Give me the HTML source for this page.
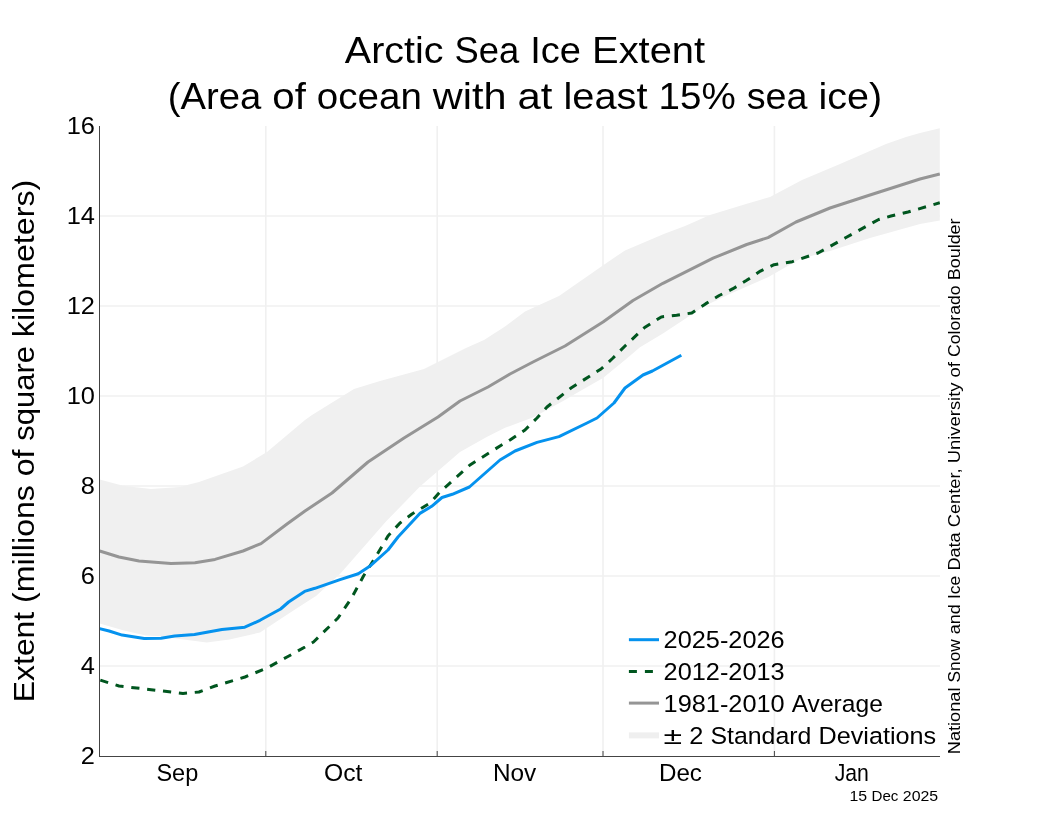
<!DOCTYPE html>
<html><head><meta charset="utf-8"><title>Arctic Sea Ice Extent</title>
<style>
html,body{margin:0;padding:0;background:#fff;width:1050px;height:840px;overflow:hidden}
svg{display:block;will-change:transform}
text{font-family:"Liberation Sans", sans-serif;fill:#000}
</style></head><body>
<svg width="1050" height="840" viewBox="0 0 1050 840">
<rect width="1050" height="840" fill="#ffffff"/>
<defs><clipPath id="ax"><rect x="99.5" y="124" width="840.5" height="632.5"/></clipPath></defs>
<line x1="99.7" y1="216.0" x2="940" y2="216.0" stroke="#f0f0f0" stroke-width="1.6"/>
<line x1="99.7" y1="306.0" x2="940" y2="306.0" stroke="#f0f0f0" stroke-width="1.6"/>
<line x1="99.7" y1="396.0" x2="940" y2="396.0" stroke="#f0f0f0" stroke-width="1.6"/>
<line x1="99.7" y1="486.0" x2="940" y2="486.0" stroke="#f0f0f0" stroke-width="1.6"/>
<line x1="99.7" y1="576.0" x2="940" y2="576.0" stroke="#f0f0f0" stroke-width="1.6"/>
<line x1="99.7" y1="666.0" x2="940" y2="666.0" stroke="#f0f0f0" stroke-width="1.6"/>
<line x1="265.8" y1="126" x2="265.8" y2="756" stroke="#f0f0f0" stroke-width="1.6"/>
<line x1="437.2" y1="126" x2="437.2" y2="756" stroke="#f0f0f0" stroke-width="1.6"/>
<line x1="603.0" y1="126" x2="603.0" y2="756" stroke="#f0f0f0" stroke-width="1.6"/>
<line x1="774.4" y1="126" x2="774.4" y2="756" stroke="#f0f0f0" stroke-width="1.6"/>
<g clip-path="url(#ax)">
<polygon points="99.7,479.6 123.0,485.7 151.0,489.1 180.0,487.0 191.0,484.0 199.0,482.0 243.0,466.5 267.0,452.0 305.0,420.0 312.0,415.0 354.0,389.0 380.0,381.0 424.0,369.0 466.0,348.0 484.0,340.0 505.0,326.5 525.0,311.5 559.0,296.0 605.0,264.0 625.0,250.4 665.0,233.6 685.0,226.0 710.0,215.0 746.0,204.0 770.0,197.0 802.0,180.0 840.0,164.0 886.0,144.0 906.0,137.0 920.0,133.0 939.8,128.3 939.8,220.6 920.0,224.0 870.0,238.0 830.0,251.0 800.0,259.0 768.0,277.2 731.4,293.2 704.0,306.2 685.7,318.4 662.9,333.6 640.0,347.3 625.0,360.0 603.0,378.0 575.0,394.0 564.9,400.0 534.0,417.1 520.0,422.3 505.0,427.8 486.7,437.1 460.0,452.0 420.0,486.5 404.0,503.0 386.0,521.5 340.0,574.0 316.0,596.0 305.0,603.0 285.0,616.0 260.0,632.5 229.5,639.4 206.7,642.4 176.0,638.6 161.0,636.3 145.7,635.6 123.0,630.2 99.7,623.4" fill="#f0f0f0"/>
<path d="M99.7 551.0 L119.0 557.0 L139.0 561.0 L171.0 563.6 L195.0 562.8 L215.0 559.4 L243.0 551.0 L261.0 543.6 L287.0 524.0 L305.0 511.0 L332.0 493.0 L368.0 462.0 L404.0 438.0 L438.0 417.0 L460.0 401.0 L488.0 387.0 L510.0 374.0 L533.0 362.0 L565.0 346.0 L603.0 322.0 L633.0 300.5 L662.9 283.3 L713.1 258.2 L746.7 244.5 L768.0 237.6 L796.0 222.0 L830.0 208.0 L870.0 195.0 L920.0 179.0 L939.8 174.0" fill="none" stroke="#959595" stroke-width="3" stroke-linejoin="round"/>
<path d="M99.7 680.0 L119.0 686.0 L149.0 689.4 L183.0 693.4 L199.0 692.0 L215.0 686.0 L245.0 677.0 L267.0 668.0 L287.0 657.0 L305.0 647.0 L313.5 642.0 L338.0 618.0 L351.5 598.0 L363.5 576.0 L375.0 558.0 L388.0 536.0 L400.0 523.0 L412.0 514.0 L430.0 503.0 L440.0 492.0 L470.0 465.0 L500.0 446.0 L510.0 440.0 L525.0 430.0 L537.0 418.0 L547.0 407.0 L571.0 388.0 L601.0 369.0 L613.0 358.0 L625.0 346.0 L644.6 327.5 L661.3 316.9 L676.6 315.3 L691.8 313.0 L705.5 303.9 L719.2 295.5 L733.0 288.7 L746.7 280.3 L760.4 271.1 L774.1 264.7 L792.4 261.7 L818.0 253.0 L846.0 237.5 L878.7 219.5 L891.0 216.0 L908.0 212.0 L939.8 202.8" fill="none" stroke="#00561f" stroke-width="3" stroke-dasharray="8.2 7.77" stroke-dashoffset="-0.62" stroke-linejoin="round"/>
<path d="M99.7 628.7 L109.1 631.0 L122.1 635.1 L144.2 638.6 L161.0 638.3 L174.7 636.0 L194.5 634.4 L221.9 629.5 L244.8 627.2 L260.0 620.3 L280.6 609.0 L288.6 602.0 L304.6 591.4 L314.9 588.3 L340.0 579.6 L358.3 573.7 L369.7 566.3 L388.0 550.0 L398.0 537.0 L420.3 513.1 L431.7 506.3 L442.0 497.5 L452.3 494.3 L469.4 487.0 L500.0 460.0 L515.0 451.0 L537.0 442.4 L559.0 436.6 L587.0 423.0 L597.0 418.0 L614.0 403.0 L625.0 388.0 L643.0 375.0 L652.4 371.0 L680.0 356.0" fill="none" stroke="#0592ee" stroke-width="3" stroke-linejoin="round" stroke-linecap="square"/>
</g>
<line x1="99.5" y1="126" x2="99.5" y2="757" stroke="#444" stroke-width="1"/>
<line x1="99" y1="756.5" x2="940" y2="756.5" stroke="#444" stroke-width="1"/>
<line x1="265.8" y1="756" x2="265.8" y2="751" stroke="#444" stroke-width="1"/>
<line x1="437.2" y1="756" x2="437.2" y2="751" stroke="#444" stroke-width="1"/>
<line x1="603.0" y1="756" x2="603.0" y2="751" stroke="#444" stroke-width="1"/>
<line x1="774.4" y1="756" x2="774.4" y2="751" stroke="#444" stroke-width="1"/>
<text y="134.10" font-size="23.09"><tspan x="66.75" textLength="28.25" lengthAdjust="spacingAndGlyphs">16</tspan></text>
<text y="224.10" font-size="23.09"><tspan x="66.75" textLength="28.25" lengthAdjust="spacingAndGlyphs">14</tspan></text>
<text y="314.10" font-size="23.09"><tspan x="66.75" textLength="28.25" lengthAdjust="spacingAndGlyphs">12</tspan></text>
<text y="404.10" font-size="23.09"><tspan x="66.75" textLength="28.25" lengthAdjust="spacingAndGlyphs">10</tspan></text>
<text y="494.10" font-size="23.09"><tspan x="80.88" textLength="14.12" lengthAdjust="spacingAndGlyphs">8</tspan></text>
<text y="584.10" font-size="23.09"><tspan x="80.88" textLength="14.12" lengthAdjust="spacingAndGlyphs">6</tspan></text>
<text y="674.10" font-size="23.09"><tspan x="80.88" textLength="14.12" lengthAdjust="spacingAndGlyphs">4</tspan></text>
<text y="764.10" font-size="23.09"><tspan x="80.88" textLength="14.12" lengthAdjust="spacingAndGlyphs">2</tspan></text>
<text y="781.00" font-size="23.09"><tspan x="156.43" textLength="41.84" lengthAdjust="spacingAndGlyphs">Sep</tspan></text>
<text y="781.00" font-size="23.09"><tspan x="324.00" textLength="38.38" lengthAdjust="spacingAndGlyphs">Oct</tspan></text>
<text y="781.00" font-size="23.09"><tspan x="492.91" textLength="43.33" lengthAdjust="spacingAndGlyphs">Nov</tspan></text>
<text y="781.00" font-size="23.09"><tspan x="658.94" textLength="42.96" lengthAdjust="spacingAndGlyphs">Dec</tspan></text>
<text y="781.00" font-size="23.09"><tspan x="834.68" textLength="34.22" lengthAdjust="spacingAndGlyphs">Jan</tspan></text>
<text y="63.40" font-size="36.11"><tspan x="344.87" textLength="98.70" lengthAdjust="spacingAndGlyphs">Arctic</tspan><tspan x="454.61" textLength="64.68" lengthAdjust="spacingAndGlyphs">Sea</tspan><tspan x="530.32" textLength="50.69" lengthAdjust="spacingAndGlyphs">Ice</tspan><tspan x="592.05" textLength="113.08" lengthAdjust="spacingAndGlyphs">Extent</tspan></text>
<text y="109.30" font-size="36.11"><tspan x="167.87" textLength="93.45" lengthAdjust="spacingAndGlyphs">(Area</tspan><tspan x="272.36" textLength="33.47" lengthAdjust="spacingAndGlyphs">of</tspan><tspan x="316.86" textLength="104.97" lengthAdjust="spacingAndGlyphs">ocean</tspan><tspan x="432.87" textLength="73.66" lengthAdjust="spacingAndGlyphs">with</tspan><tspan x="517.57" textLength="34.89" lengthAdjust="spacingAndGlyphs">at</tspan><tspan x="563.49" textLength="83.99" lengthAdjust="spacingAndGlyphs">least</tspan><tspan x="658.51" textLength="77.17" lengthAdjust="spacingAndGlyphs">15%</tspan><tspan x="746.72" textLength="60.73" lengthAdjust="spacingAndGlyphs">sea</tspan><tspan x="818.48" textLength="63.64" lengthAdjust="spacingAndGlyphs">ice)</tspan></text>
<text transform="translate(33.9,441) rotate(-90)" y="0.00" font-size="28.89"><tspan x="-261.22" textLength="90.47" lengthAdjust="spacingAndGlyphs">Extent</tspan><tspan x="-161.92" textLength="117.85" lengthAdjust="spacingAndGlyphs">(millions</tspan><tspan x="-35.24" textLength="26.78" lengthAdjust="spacingAndGlyphs">of</tspan><tspan x="0.37" textLength="94.64" lengthAdjust="spacingAndGlyphs">square</tspan><tspan x="103.84" textLength="157.39" lengthAdjust="spacingAndGlyphs">kilometers)</tspan></text>
<text transform="translate(960,754.2) rotate(-90)" y="0.00" font-size="16.64"><tspan x="0.00" textLength="66.67" lengthAdjust="spacingAndGlyphs">National</tspan><tspan x="71.76" textLength="43.17" lengthAdjust="spacingAndGlyphs">Snow</tspan><tspan x="120.02" textLength="30.10" lengthAdjust="spacingAndGlyphs">and</tspan><tspan x="155.20" textLength="23.36" lengthAdjust="spacingAndGlyphs">Ice</tspan><tspan x="183.65" textLength="38.20" lengthAdjust="spacingAndGlyphs">Data</tspan><tspan x="226.94" textLength="58.94" lengthAdjust="spacingAndGlyphs">Center,</tspan><tspan x="290.96" textLength="80.71" lengthAdjust="spacingAndGlyphs">University</tspan><tspan x="376.76" textLength="15.42" lengthAdjust="spacingAndGlyphs">of</tspan><tspan x="397.27" textLength="71.52" lengthAdjust="spacingAndGlyphs">Colorado</tspan><tspan x="473.88" textLength="61.93" lengthAdjust="spacingAndGlyphs">Boulder</tspan></text>
<text y="800.90" font-size="14.45"><tspan x="849.47" textLength="17.67" lengthAdjust="spacingAndGlyphs">15</tspan><tspan x="871.56" textLength="26.88" lengthAdjust="spacingAndGlyphs">Dec</tspan><tspan x="902.85" textLength="35.35" lengthAdjust="spacingAndGlyphs">2025</tspan></text>
<line x1="628.9" y1="639.7" x2="659" y2="639.7" stroke="#0592ee" stroke-width="3"/>
<line x1="628.9" y1="671.4" x2="659" y2="671.4" stroke="#00561f" stroke-width="3" stroke-dasharray="8 8"/>
<line x1="628.9" y1="703.1" x2="659" y2="703.1" stroke="#959595" stroke-width="3"/>
<rect x="628.9" y="732.4" width="30.1" height="6" fill="#efefef"/>
<text y="648.20" font-size="23.09"><tspan x="663.60" textLength="121.01" lengthAdjust="spacingAndGlyphs">2025-2026</tspan></text>
<text y="679.90" font-size="23.09"><tspan x="663.60" textLength="121.01" lengthAdjust="spacingAndGlyphs">2012-2013</tspan></text>
<text y="711.60" font-size="23.09"><tspan x="663.60" textLength="121.01" lengthAdjust="spacingAndGlyphs">1981-2010</tspan><tspan x="791.66" textLength="91.16" lengthAdjust="spacingAndGlyphs">Average</tspan></text>
<text y="743.90" font-size="23.09"><tspan x="663.60" textLength="18.60" lengthAdjust="spacingAndGlyphs">±</tspan><tspan x="689.26" textLength="14.12" lengthAdjust="spacingAndGlyphs">2</tspan><tspan x="710.44" textLength="100.99" lengthAdjust="spacingAndGlyphs">Standard</tspan><tspan x="818.49" textLength="117.75" lengthAdjust="spacingAndGlyphs">Deviations</tspan></text>
</svg>
</body></html>
